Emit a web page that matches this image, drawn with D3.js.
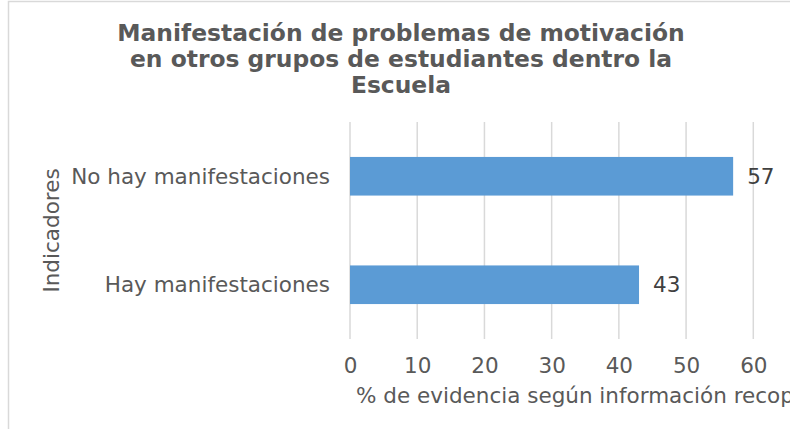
<!DOCTYPE html>
<html lang="es">
<head>
<meta charset="UTF-8">
<title>Manifestación de problemas de motivación</title>
<script src="https://d3js.org/d3.v7.min.js"></script>
<style>
    body { margin: 0; background: #fff; }
    svg text { font-family: "DejaVu Sans", Verdana, sans-serif; }
</style>
</head>
<body>
<svg id="chart"></svg>
<script>
    // data
    const categories = ["No hay manifestaciones", "Hay manifestaciones"];
    const values = [57, 43];
    const xTicks = [0, 10, 20, 30, 40, 50, 60];
    const titleLines = [
        "Manifestación de problemas de motivación",
        "en otros grupos de estudiantes dentro la",
        "Escuela"
    ];
    const xTitle = "% de evidencia según información recopilada";
    const yTitle = "Indicadores";

    const width = 790, height = 429;
    const plot = { left: 350, right: 753.3, top: 122, bottom: 339 };

    const svg = d3.select("#chart")
        .attr("width", width)
        .attr("height", height);

    // chart border (only left and top visible, rest is cropped)
    svg.append("rect")
        .attr("x", 8.5).attr("y", 1.5)
        .attr("width", 900).attr("height", 600)
        .attr("fill", "none")
        .attr("stroke", "#d9d9d9")
        .attr("stroke-width", 1.5);

    // title
    svg.append("text")
        .attr("x", 401)
        .attr("text-anchor", "middle")
        .attr("font-size", "23.4px")
        .attr("font-weight", "bold")
        .attr("fill", "#595959")
        .selectAll("tspan")
        .data(titleLines)
        .join("tspan")
        .attr("x", 401)
        .attr("y", (d, i) => 40.5 + i * 26.2)
        .text(d => d);

    const x = d3.scaleLinear()
        .domain([0, 60])
        .range([plot.left, plot.right]);

    const y = d3.scaleBand()
        .domain(categories)
        .range([plot.top, plot.bottom])
        .paddingInner(0.644)
        .paddingOuter(0.322);

    // gridlines
    svg.append("g")
        .selectAll("line")
        .data(xTicks)
        .join("line")
        .attr("x1", d => x(d)).attr("x2", d => x(d))
        .attr("y1", plot.top).attr("y2", plot.bottom)
        .attr("stroke", "#d9d9d9")
        .attr("stroke-width", 1.5);

    // x axis tick labels
    const xAxis = svg.append("g")
        .attr("transform", `translate(0,${plot.bottom})`)
        .call(d3.axisBottom(x).tickValues(xTicks).tickSize(0).tickPadding(0));
    xAxis.select(".domain").remove();
    xAxis.selectAll("text")
        .attr("y", 34)
        .attr("dy", null)
        .attr("font-size", "21.5px")
        .attr("font-family", "DejaVu Sans, Verdana, sans-serif")
        .attr("fill", "#595959");

    // y axis category labels
    const yAxis = svg.append("g")
        .attr("transform", `translate(${plot.left},0)`)
        .call(d3.axisLeft(y).tickSize(0).tickPadding(20));
    yAxis.select(".domain").remove();
    yAxis.selectAll("text")
        .attr("dy", "0.35em")
        .attr("font-size", "21.5px")
        .attr("font-family", "DejaVu Sans, Verdana, sans-serif")
        .attr("fill", "#595959");

    // bars
    svg.append("g")
        .selectAll("rect")
        .data(values)
        .join("rect")
        .attr("x", x(0))
        .attr("y", (d, i) => y(categories[i]))
        .attr("width", d => x(d) - x(0))
        .attr("height", y.bandwidth())
        .attr("fill", "#5b9bd5");

    // data labels
    svg.append("g")
        .selectAll("text")
        .data(values)
        .join("text")
        .attr("x", d => x(d) + 14)
        .attr("y", (d, i) => y(categories[i]) + y.bandwidth() / 2)
        .attr("dy", "0.35em")
        .attr("font-size", "21.5px")
        .attr("fill", "#404040")
        .text(d => d);

    // axis titles (x title runs past the right edge, as in the original crop)
    svg.append("text")
        .attr("x", 356)
        .attr("y", 402.5)
        .attr("font-size", "21.5px")
        .attr("fill", "#595959")
        .text(xTitle);

    svg.append("text")
        .attr("transform", `translate(59,${(plot.top + plot.bottom) / 2}) rotate(-90)`)
        .attr("text-anchor", "middle")
        .attr("font-size", "21.5px")
        .attr("fill", "#595959")
        .text(yTitle);
</script>
</body>
</html>
